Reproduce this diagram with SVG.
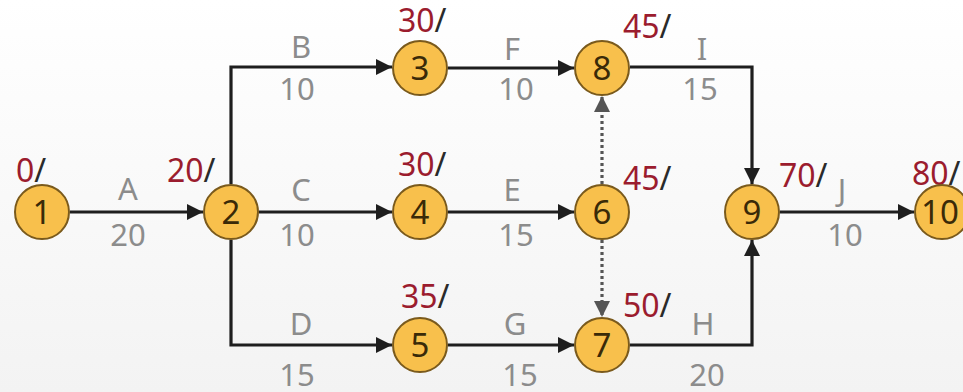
<svg xmlns="http://www.w3.org/2000/svg" width="963" height="392" viewBox="0 0 963 392">
<defs>
<linearGradient id="bg" x1="0" y1="0" x2="0" y2="1">
<stop offset="0" stop-color="#ffffff"/>
<stop offset="1" stop-color="#f3f3f3"/>
</linearGradient>
<marker id="ah" viewBox="0 0 16 16" refX="16" refY="8" markerWidth="16" markerHeight="16" orient="auto" markerUnits="userSpaceOnUse">
<path d="M0,0 L16,8 L0,16 z" fill="#1e1e1e"/>
</marker>
<marker id="ahg" viewBox="0 0 16 16" refX="16" refY="8" markerWidth="16" markerHeight="16" orient="auto" markerUnits="userSpaceOnUse">
<path d="M0,0 L16,8 L0,16 z" fill="#555"/>
</marker>
</defs>
<style>
.n circle{fill:#f8c04c;stroke:#7a5a1c;stroke-width:2}
.n text{font-family:"Noto Sans","Open Sans",sans-serif;font-size:33px;fill:#3a2a08;text-anchor:middle}
.e{fill:none;stroke:#1e1e1e;stroke-width:3.2;marker-end:url(#ah)}
.d{fill:none;stroke:#555;stroke-width:3.2;stroke-dasharray:3 3;marker-end:url(#ahg)}
.l{font-family:"Noto Sans","Open Sans",sans-serif;font-size:31px;fill:#8c8c8c;text-anchor:middle}
.v{font-family:"Noto Sans","Open Sans",sans-serif;font-size:32px;fill:#9b1c2e}
.v tspan{fill:#2a2a2a}
</style>
<rect width="963" height="392" fill="url(#bg)"/>
<g id="connectors">
<path class="e" d="M70,212 H203"/>
<path class="e" d="M231,184 V67 H392"/>
<path class="e" d="M259,212 H392"/>
<path class="e" d="M231,240 V345 H392"/>
<path class="e" d="M448,68 H574"/>
<path class="e" d="M448,212 H574"/>
<path class="e" d="M448,345 H574"/>
<path class="e" d="M630,67 H752 V184"/>
<path class="e" d="M630,345 H752 V240"/>
<path class="e" d="M780,212 H914"/>
<path class="d" d="M602,184 V96"/>
<path class="d" d="M602,240 V317"/>
</g>
<g id="labels">
<text class="l" x="128" y="200">A</text><text class="l" x="128" y="246">20</text>
<text class="l" x="301" y="58">B</text><text class="l" x="297" y="100">10</text>
<text class="l" x="301" y="201">C</text><text class="l" x="297" y="246">10</text>
<text class="l" x="301" y="335">D</text><text class="l" x="297" y="386">15</text>
<text class="l" x="512" y="60">F</text><text class="l" x="516" y="100">10</text>
<text class="l" x="512" y="201">E</text><text class="l" x="516" y="246">15</text>
<text class="l" x="515" y="335">G</text><text class="l" x="520" y="386">15</text>
<text class="l" x="702" y="60">I</text><text class="l" x="700" y="100">15</text>
<text class="l" x="703" y="335">H</text><text class="l" x="707" y="386">20</text>
<text class="l" x="842" y="201">J</text><text class="l" x="845" y="246">10</text>
</g>
<g id="values">
<text class="v" x="16" y="182">0<tspan>/</tspan></text>
<text class="v" x="167" y="182">20<tspan>/</tspan></text>
<text class="v" x="398" y="32">30<tspan>/</tspan></text>
<text class="v" x="623" y="38">45<tspan>/</tspan></text>
<text class="v" x="398" y="176">30<tspan>/</tspan></text>
<text class="v" x="623" y="190">45<tspan>/</tspan></text>
<text class="v" x="779" y="187">70<tspan>/</tspan></text>
<text class="v" x="912" y="185">80<tspan>/</tspan></text>
<text class="v" x="401" y="308">35<tspan>/</tspan></text>
<text class="v" x="623" y="317">50<tspan>/</tspan></text>
</g>
<g id="n1" class="n"><circle cx="42" cy="212" r="27"/><text x="42" y="224">1</text></g>
<g id="n2" class="n"><circle cx="231" cy="212" r="27"/><text x="231" y="224">2</text></g>
<g id="n3" class="n"><circle cx="420" cy="68" r="27"/><text x="420" y="80">3</text></g>
<g id="n4" class="n"><circle cx="420" cy="212" r="27"/><text x="420" y="224">4</text></g>
<g id="n5" class="n"><circle cx="420" cy="345" r="27"/><text x="420" y="357">5</text></g>
<g id="n6" class="n"><circle cx="602" cy="212" r="27"/><text x="602" y="224">6</text></g>
<g id="n7" class="n"><circle cx="602" cy="345" r="27"/><text x="602" y="357">7</text></g>
<g id="n8" class="n"><circle cx="602" cy="68" r="27"/><text x="602" y="80">8</text></g>
<g id="n9" class="n"><circle cx="752" cy="212" r="27"/><text x="752" y="224">9</text></g>
<g id="n10" class="n"><circle cx="942" cy="212" r="27"/><text x="940" y="224">10</text></g>
</svg>
